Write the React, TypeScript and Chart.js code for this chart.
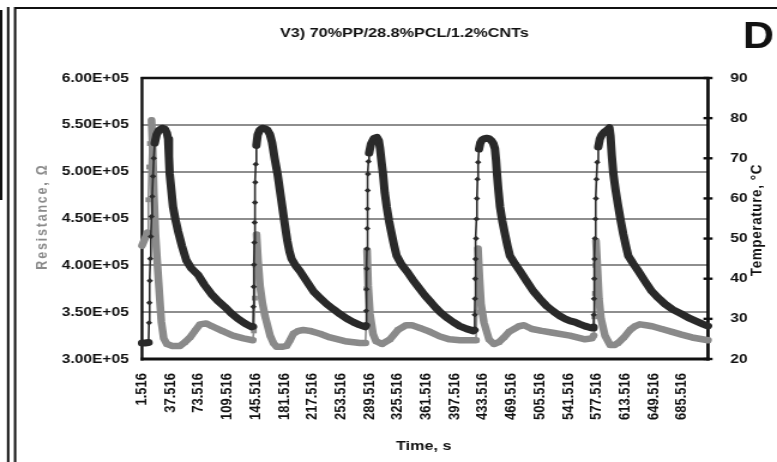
import React, { useEffect, useRef } from 'react';
import { Chart, registerables } from 'chart.js';

Chart.register(...registerables);

// ---------------- data ----------------
const CHART_TITLE = 'V3) 70%PP/28.8%PCL/1.2%CNTs';
const PANEL_LETTER = 'D';
const X_TITLE = 'Time, s';
const Y_LEFT_TITLE = 'Resistance, Ω';
const Y_RIGHT_TITLE = 'Temperature, °C';

const X_TICKS = [
  1.516, 37.516, 73.516, 109.516, 145.516, 181.516, 217.516, 253.516, 289.516, 325.516,
  361.516, 397.516, 433.516, 469.516, 505.516, 541.516, 577.516, 613.516, 649.516, 685.516,
];
const X_MIN = 1.516;
const X_MAX = 718.516;

const RES_MIN = 300000;
const RES_MAX = 600000;
const RES_STEP = 50000;
const TEMP_MIN = 20;
const TEMP_MAX = 90;
const TEMP_STEP = 10;

// Temperature series (s, °C)
const TEMP_TIME = [
  1.516, 5.5, 9.8, 10.4, 10.9, 11.4, 12.0, 12.7, 13.5, 14.4, 15.4, 16.4, 17.6, 20.0, 23.0, 26.9, 30.5, 33.0, 34.6, 35.6,
  36.6, 38.7, 40.8, 44.0, 47.1, 52.0, 57.6, 64.0, 72.4, 80.5, 89.3, 97.5, 106.3, 114.5, 123.1, 131.5, 140.0,
  142.1, 142.6, 143.0, 143.4, 143.8, 144.2, 144.6, 145.0, 145.6, 146.4, 148.0, 150.5, 154.0, 157.2, 160.5, 163.5, 166.2,
  169.5, 173.2, 176.2, 179.2, 182.4, 185.6, 188.5, 191.1, 196.0, 201.6, 210.0, 218.5, 227.0, 235.4, 244.0, 252.3, 260.7,
  269.1, 277.0, 284.2,
  285.2, 285.5, 285.9, 286.2, 286.5, 286.8, 287.1, 287.4, 287.8, 288.4, 289.2, 291.6, 295.4, 299.2, 301.5, 303.0, 305.0,
  306.8, 309.0, 311.5, 314.5, 317.8, 321.0, 324.1, 330.0, 336.8, 345.0, 353.6, 360.0, 366.3, 372.5, 379.0, 387.0, 395.8,
  404.0, 412.8, 421.2,
  422.6, 423.0, 423.3, 423.6, 424.0, 424.6, 425.2, 425.8, 426.5, 427.3, 428.4, 430.0, 432.2, 435.0, 438.1, 441.0, 443.6,
  446.3, 448.6, 450.0, 451.2, 453.0, 455.0, 458.0, 461.3, 464.5, 467.6, 474.0, 480.3, 489.0, 497.2, 505.5, 514.1, 522.5,
  531.0, 537.5, 543.7, 550.0, 556.0, 562.7, 568.0, 572.5,
  573.5, 573.8, 574.1, 574.4, 574.8, 575.3, 575.9, 576.5, 577.2, 578.2, 579.5, 581.5, 583.8, 587.0, 590.5, 593.6, 595.0,
  596.6, 598.6, 601.5, 604.9, 608.0, 611.2, 614.5, 617.5, 624.0, 630.2, 638.5, 647.2, 655.5, 664.0, 674.0, 685.1, 695.5,
  706.2, 712.0, 718.5,
];
const TEMP_C = [
  24.0, 24.0, 24.1, 29, 34, 39.5, 45, 50.5, 55.5, 60.5, 65.5, 70, 73.8, 75.9, 77.0, 77.5, 77.3, 76.3, 74.8, 70.5,
  66.1, 62.0, 57.9, 54.6, 51.9, 48.2, 44.6, 42.6, 41.0, 38.5, 36.2, 34.5, 33.0, 31.4, 30.0, 28.9, 28.0,
  28.1, 33, 38, 43.5, 49, 54, 59, 64, 68.5, 73.2, 75.8, 77.0, 77.5, 77.4, 77.0, 76.0, 74.0,
  70.0, 66.1, 62.0, 57.9, 53.5, 49.4, 46.6, 44.9, 43.3, 41.9, 39.4, 36.9, 35.2, 33.7, 32.4, 31.2, 30.1,
  29.2, 28.5, 28.0,
  28.3, 32, 37.4, 42.5, 47.4, 52.5, 57.4, 62, 66.1, 69.2, 71.3, 73.6, 75.0, 75.2, 74.4, 72.5, 69.0,
  66.1, 61.5, 57.9, 54.3, 51.1, 48.2, 45.7, 43.6, 41.9, 39.6, 37.4, 35.8, 34.4, 33.0, 31.7, 30.4, 29.2,
  28.2, 27.5, 27.0,
  27.2, 31, 35, 40, 44.9, 50, 54.9, 60, 64.8, 69, 72.3, 73.8, 74.6, 74.9, 75.0, 74.9, 74.5,
  73.8, 72.4, 69.5, 66.1, 62.0, 57.9, 54.3, 51.1, 48.2, 45.7, 43.7, 41.9, 39.3, 36.9, 35.0, 33.2, 31.9,
  30.7, 30.0, 29.5, 29.2, 28.7, 28.2, 27.9, 27.7,
  28.0, 31, 35, 40, 44.9, 50, 54.9, 60, 64.8, 69, 72.8, 74.8, 75.8, 76.5, 77.0, 77.6, 75.5,
  70.8, 66.1, 62.0, 57.9, 54.4, 51.1, 48.2, 45.7, 43.7, 41.9, 39.4, 36.9, 35.2, 33.7, 32.3, 31.2, 30.1,
  29.2, 28.7, 28.2,
];

// Resistance series (s, Ω)
const RES_TIME = [
  1.516, 8.5, 9.6, 10.6, 11.6, 13.6, 15.0, 16.5, 18.5, 20.7, 23.5, 26.0, 29.0, 33.0, 40.0, 49.7, 56.0, 62.3, 68.5, 75.0,
  82.6, 90.2, 103.0, 116.8, 130.0, 141.8,
  143.2, 144.3, 145.4, 146.6, 148.5, 151.0, 154.0, 157.3, 163.8, 168.0, 172.1, 178.5, 184.8, 189.0, 193.2, 199.5, 205.8,
  214.3, 227.0, 239.6, 258.6, 277.6, 284.5,
  285.4, 286.0, 286.6, 288.0, 290.3, 294.1, 297.9, 305.5, 315.6, 325.8, 335.9, 343.5, 353.6, 366.3, 379.0, 391.0, 404.4,
  421.2, 424.6,
  425.6, 426.4, 427.1, 429.0, 430.9, 434.7, 441.0, 447.4, 453.7, 460.0, 466.4, 479.0, 485.4, 495.5, 508.0, 522.0, 543.6,
  562.7, 571.5, 573.6,
  574.5, 575.3, 576.0, 576.6, 578.5, 580.4, 583.0, 588.0, 594.4, 600.0, 604.5, 612.0, 619.7, 626.0, 632.4, 640.0, 647.6,
  660.0, 672.9, 685.0, 698.3, 718.5,
];
const RES_OHM = [
  421000, 435000, 470000, 505000, 530000, 555000, 525000, 477000, 434000, 405000, 370000, 340000, 322000, 316000, 314000,
  314000, 318000, 323000, 330000, 337000, 338000, 335000, 330000, 325000, 322000, 320000,
  330000, 365000, 400000, 433000, 405000, 378000, 360000, 346000, 325000, 317000, 313000, 313000, 314000, 320000, 327000,
  330000, 331000, 330000, 327000, 323000, 319000, 317000, 317000,
  335000, 375000, 416000, 378000, 348000, 327000, 319000, 316000, 321000, 331000, 336000, 336000, 333000, 329000, 324000,
  321000, 320000, 320000, 320000,
  350000, 385000, 418000, 386000, 359000, 339000, 321000, 316000, 318000, 323000, 329000, 335000, 336000, 332000, 330000,
  328000, 325000, 321000, 322000, 325000,
  345000, 370000, 400000, 426000, 396000, 364000, 343000, 325000, 315000, 315000, 317000, 323000, 331000, 335000, 337000,
  336000, 335000, 332000, 329000, 326000, 323000, 320000,
];

// ---------------- layout & style ----------------
const CANVAS_W = 648;
const CANVAS_H = 462;
const STRETCH = 777 / CANVAS_W;
const PLOT_LEFT = 142 / STRETCH;
const PLOT_RIGHT = 708 / STRETCH;
const PLOT_TOP = 78;
const PLOT_BOTTOM = 359;
const X_AXIS_H = 80;

const DARK = '#2a2a2a';
const GREY = '#8a8a8a';
const GRID = '#8e8e8e';
const INK = '#111111';
const FAMILY = '"Liberation Sans", Arial, Helvetica, sans-serif';

const bandWidth = (thick: number, thin: number) => (ctx: any) => {
  const dx = Math.abs(ctx.p1.x - ctx.p0.x);
  const rise = ctx.p0.y - ctx.p1.y;
  return rise > 8 && rise > 10 * dx ? thin : thick;
};

const fmtRes = (v: number) => (v / 100000).toFixed(2) + 'E+05';

const decorPlugin = {
  id: 'decor',
  beforeDatasetsDraw(chart: any) {
    const { ctx, chartArea: a, scales } = chart;
    ctx.save();
    ctx.strokeStyle = INK;
    ctx.lineCap = 'butt';
    const line = (x1: number, y1: number, x2: number, y2: number, w: number) => {
      ctx.lineWidth = w;
      ctx.beginPath();
      ctx.moveTo(x1, y1);
      ctx.lineTo(x2, y2);
      ctx.stroke();
    };
    line(a.left - 1, a.top, a.right + 1, a.top, 2.5);
    line(a.left, a.top - 1, a.left, a.bottom + 1.5, 2.4);
    line(a.left - 1.2, a.bottom, a.right + 1.2, a.bottom, 3.2);
    line(a.right, a.top - 1, a.right, a.bottom + 1.5, 2.8);
    scales.y1.ticks.forEach((t: any) => {
      const y = scales.y1.getPixelForValue(t.value);
      line(a.right - 3.8, y, a.right + 3.8, y, 2.4);
    });
    ctx.restore();
  },
  afterDraw(chart: any) {
    const { ctx, chartArea: a } = chart;
    ctx.save();
    // panel frames
    ctx.strokeStyle = INK;
    ctx.lineWidth = 2;
    ctx.beginPath();
    ctx.moveTo(12.6, CANVAS_H);
    ctx.lineTo(12.6, 8);
    ctx.lineTo(CANVAS_W, 8);
    ctx.stroke();
    ctx.beginPath();
    ctx.moveTo(6.8, 7);
    ctx.lineTo(6.8, CANVAS_H);
    ctx.stroke();
    ctx.beginPath();
    ctx.moveTo(1, 10);
    ctx.lineTo(1, 200);
    ctx.stroke();

    ctx.fillStyle = INK;
    ctx.textAlign = 'center';
    ctx.textBaseline = 'alphabetic';
    ctx.font = `bold 13.5px ${FAMILY}`;
    ctx.fillText(CHART_TITLE, 337.3, 37);

    ctx.font = `bold 36px ${FAMILY}`;
    ctx.fillText(PANEL_LETTER, 632.6, 48.3);

    ctx.font = `bold 13.5px ${FAMILY}`;
    ctx.fillText(X_TITLE, (a.left + a.right) / 2 - 1, 449.5);

    // left axis title (grey), reading bottom-to-top
    ctx.save();
    ctx.translate(39.2, 216.5);
    ctx.rotate(-Math.PI / 2);
    ctx.fillStyle = GREY;
    ctx.font = `bold 12.5px ${FAMILY}`;
    (ctx as any).letterSpacing = '1.8px';
    ctx.fillText(Y_LEFT_TITLE, 0, 0);
    ctx.restore();

    // right axis title, reading bottom-to-top
    ctx.save();
    ctx.translate(635, 220);
    ctx.rotate(-Math.PI / 2);
    ctx.fillStyle = INK;
    ctx.font = `bold 13.5px ${FAMILY}`;
    (ctx as any).letterSpacing = '0.6px';
    ctx.fillText(Y_RIGHT_TITLE, 0, 0);
    ctx.restore();

    ctx.restore();
  },
};

export default function App() {
  const ref = useRef<HTMLCanvasElement>(null);

  useEffect(() => {
    const canvas = ref.current;
    if (!canvas) return;
    const tempData = TEMP_TIME.map((t, i) => ({ x: t, y: TEMP_C[i] }));
    const resData = RES_TIME.map((t, i) => ({ x: t, y: RES_OHM[i] }));

    const chart = new Chart(canvas, {
      type: 'line',
      data: {
        datasets: [
          {
            label: 'Temperature',
            data: tempData,
            yAxisID: 'y1',
            borderColor: DARK,
            backgroundColor: DARK,
            pointBackgroundColor: DARK,
            pointStyle: 'rectRot',
            pointRadius: 2.7,
            pointBorderWidth: 0,
            borderWidth: 7,
            borderCapStyle: 'round',
            borderJoinStyle: 'round',
            tension: 0,
            clip: false as any,
            segment: { borderWidth: bandWidth(7, 1.6) } as any,
          } as any,
          {
            label: 'Resistance',
            data: resData,
            yAxisID: 'y',
            borderColor: GREY,
            backgroundColor: GREY,
            pointBackgroundColor: GREY,
            pointStyle: 'rect',
            pointRadius: 3.4,
            pointBorderWidth: 0,
            borderWidth: 6.5,
            borderCapStyle: 'round',
            borderJoinStyle: 'round',
            tension: 0,
            clip: false as any,
            segment: { borderWidth: bandWidth(6.5, 1.6) } as any,
          } as any,
        ],
      },
      options: {
        responsive: false,
        animation: false,
        events: [],
        layout: {
          padding: { left: 0, right: 0, top: PLOT_TOP, bottom: CANVAS_H - PLOT_BOTTOM - X_AXIS_H },
        },
        plugins: {
          legend: { display: false },
          tooltip: { enabled: false },
          title: { display: false },
        },
        scales: {
          x: {
            type: 'linear',
            min: X_MIN,
            max: X_MAX,
            clip: false,
            grid: { display: false },
            border: { display: false },
            afterBuildTicks: (axis: any) => {
              axis.ticks = X_TICKS.map((v) => ({ value: v }));
            },
            afterFit: (s: any) => {
              s.height = X_AXIS_H;
            },
            ticks: {
              autoSkip: false,
              minRotation: 90,
              maxRotation: 90,
              padding: 6,
              color: INK,
              font: { family: FAMILY, size: 13, weight: 'bold' },
              callback: (v: any) => Number(v).toFixed(3),
            },
          },
          y: {
            position: 'left',
            min: RES_MIN,
            max: RES_MAX,
            grid: { color: GRID, lineWidth: 2, drawTicks: false },
            border: { display: false },
            afterFit: (s: any) => {
              s.width = PLOT_LEFT;
            },
            ticks: {
              stepSize: RES_STEP,
              padding: 11,
              color: INK,
              font: { family: FAMILY, size: 13, weight: 'bold' },
              callback: (v: any) => fmtRes(Number(v)),
            },
          },
          y1: {
            position: 'right',
            min: TEMP_MIN,
            max: TEMP_MAX,
            grid: { display: false, drawOnChartArea: false },
            border: { display: false },
            afterFit: (s: any) => {
              s.width = CANVAS_W - PLOT_RIGHT;
            },
            ticks: {
              stepSize: TEMP_STEP,
              padding: 10.5,
              color: INK,
              font: { family: FAMILY, size: 13, weight: 'bold' },
            },
          },
        },
      } as any,
      plugins: [decorPlugin],
    });
    return () => chart.destroy();
  }, []);

  return (
    <div
      style={{
        position: 'fixed',
        left: 0,
        top: 0,
        width: 777,
        height: 462,
        overflow: 'hidden',
        background: '#ffffff',
      }}
    >
      <div
        style={{
          width: CANVAS_W,
          height: CANVAS_H,
          transform: `scaleX(${STRETCH})`,
          transformOrigin: '0 0',
        }}
      >
        <canvas
          ref={ref}
          width={CANVAS_W}
          height={CANVAS_H}
          style={{ display: 'block', width: CANVAS_W, height: CANVAS_H }}
        />
      </div>
    </div>
  );
}
